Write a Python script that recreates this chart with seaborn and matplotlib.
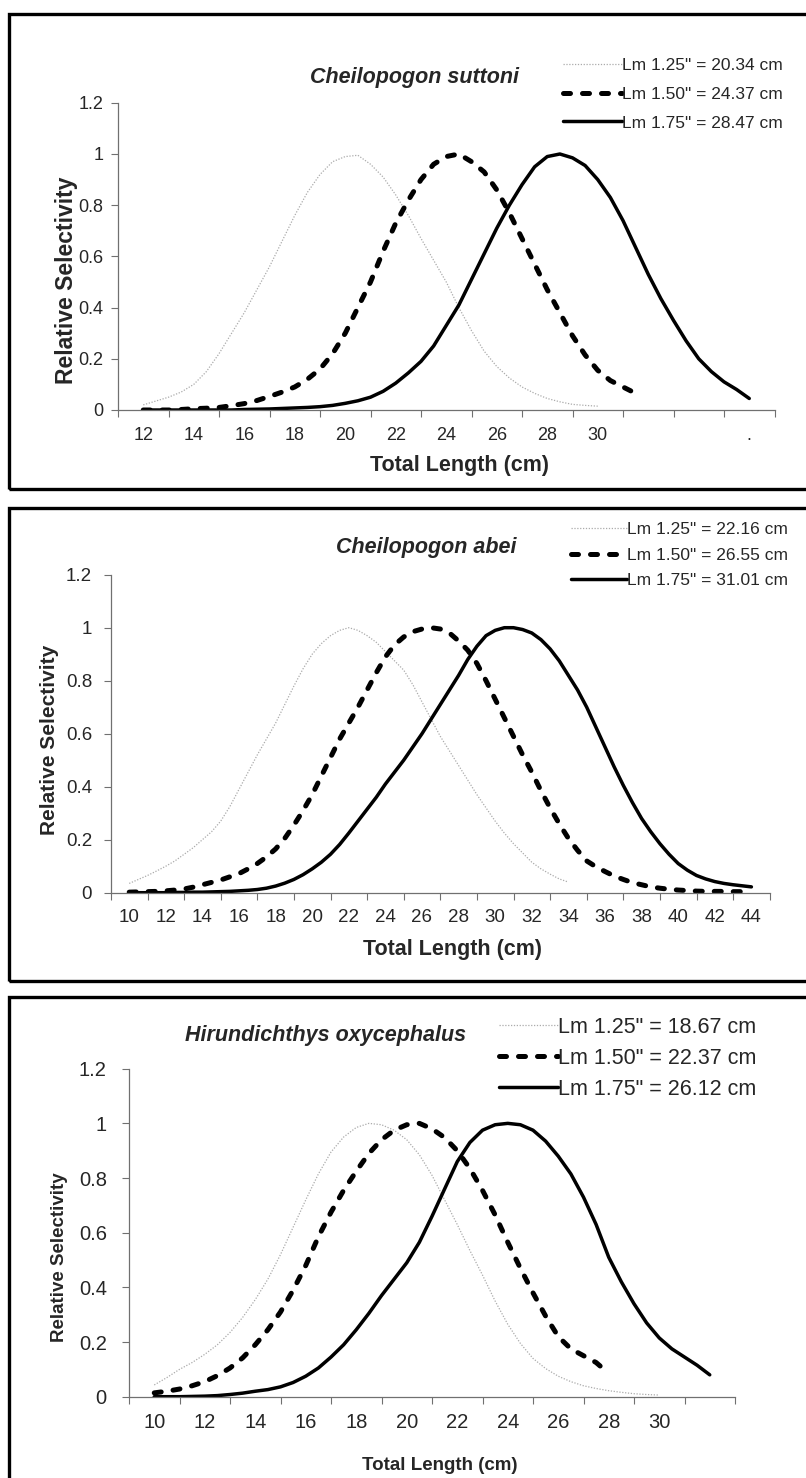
import numpy as np
import pandas as pd
import matplotlib
matplotlib.use("Agg")
import matplotlib.pyplot as plt
import seaborn as sns
from matplotlib.patches import Rectangle

# ---------------- data (every 0.5 cm) ----------------
# Panel 1: Cheilopogon suttoni
p1_title = "Cheilopogon suttoni"
p1_labels = ['Lm 1.25" = 20.34 cm', 'Lm 1.50" = 24.37 cm', 'Lm 1.75" = 28.47 cm']
p1_len_a = np.arange(12, 30.01, 0.5)
p1_sel_a = [0.02, 0.035, 0.05, 0.07, 0.10, 0.15, 0.22, 0.30, 0.38, 0.47, 0.56, 0.66, 0.76,
            0.85, 0.92, 0.97, 0.99, 0.995, 0.96, 0.91, 0.84, 0.76, 0.67, 0.585, 0.50, 0.40,
            0.31, 0.23, 0.17, 0.125, 0.09, 0.065, 0.045, 0.032, 0.022, 0.018, 0.015]
p1_len_b = np.arange(12, 31.51, 0.5)
p1_sel_b = [0.0, 0.0, 0.0, 0.002, 0.005, 0.007, 0.01, 0.017, 0.025, 0.037, 0.053, 0.07, 0.09,
            0.12, 0.16, 0.22, 0.30, 0.40, 0.50, 0.62, 0.73, 0.82, 0.90, 0.96, 0.99, 1.0, 0.97,
            0.93, 0.86, 0.77, 0.67, 0.57, 0.47, 0.38, 0.29, 0.215, 0.155, 0.115, 0.09, 0.065]
p1_len_c = np.arange(12, 36.01, 0.5)
p1_sel_c = [0.0, 0.0, 0.0, 0.0, 0.0, 0.0, 0.0, 0.0, 0.002, 0.003, 0.004, 0.006, 0.008, 0.01,
            0.013, 0.018, 0.026, 0.036, 0.05, 0.073, 0.105, 0.145, 0.19, 0.25, 0.33, 0.41,
            0.51, 0.61, 0.71, 0.80, 0.88, 0.95, 0.99, 1.0, 0.985, 0.955, 0.90, 0.83, 0.74,
            0.635, 0.53, 0.435, 0.35, 0.27, 0.20, 0.15, 0.11, 0.08, 0.045]
p1_cats = [12, 14, 16, 18, 20, 22, 24, 26, 28, 30, 32, 34, 36]
p1_ticklabels = ["12", "14", "16", "18", "20", "22", "24", "26", "28", "30", "", "", "."]

# Panel 2: Cheilopogon abei
p2_title = "Cheilopogon abei"
p2_labels = ['Lm 1.25" = 22.16 cm', 'Lm 1.50" = 26.55 cm', 'Lm 1.75" = 31.01 cm']
p2_len_a = np.arange(10, 34.01, 0.5)
p2_sel_a = [0.035, 0.05, 0.065, 0.082, 0.10, 0.12, 0.145, 0.17, 0.20, 0.23, 0.27, 0.325,
            0.39, 0.455, 0.52, 0.58, 0.64, 0.71, 0.78, 0.845, 0.90, 0.94, 0.97, 0.99, 1.0,
            0.99, 0.97, 0.945, 0.91, 0.875, 0.84, 0.785, 0.72, 0.655, 0.59, 0.535, 0.48,
            0.425, 0.37, 0.32, 0.27, 0.225, 0.185, 0.15, 0.115, 0.09, 0.07, 0.052, 0.04]
p2_len_b = np.arange(10, 44.01, 0.5)
p2_sel_b = [0.002, 0.003, 0.004, 0.005, 0.007, 0.01, 0.014, 0.021, 0.03, 0.039, 0.048, 0.06,
            0.072, 0.09, 0.11, 0.135, 0.165, 0.205, 0.255, 0.31, 0.37, 0.44, 0.51, 0.58, 0.64,
            0.70, 0.765, 0.83, 0.89, 0.935, 0.965, 0.985, 0.995, 1.0, 0.995, 0.98, 0.95,
            0.915, 0.865, 0.80, 0.73, 0.66, 0.59, 0.52, 0.455, 0.385, 0.32, 0.26, 0.205, 0.16,
            0.12, 0.098, 0.08, 0.063, 0.05, 0.038, 0.03, 0.022, 0.017, 0.013, 0.01, 0.008,
            0.006, 0.005, 0.005, 0.005, 0.004, 0.004, 0.004]
p2_len_c = np.arange(10, 44.01, 0.5)
p2_sel_c = [0.0, 0.0, 0.0, 0.0, 0.0, 0.001, 0.001, 0.002, 0.002, 0.003, 0.004, 0.005, 0.007,
            0.009, 0.012, 0.017, 0.025, 0.036, 0.05, 0.068, 0.09, 0.115, 0.145, 0.182, 0.225,
            0.27, 0.315, 0.36, 0.41, 0.455, 0.50, 0.55, 0.60, 0.655, 0.71, 0.765, 0.82, 0.88,
            0.93, 0.97, 0.99, 1.0, 1.0, 0.993, 0.98, 0.955, 0.92, 0.875, 0.82, 0.765, 0.70,
            0.625, 0.55, 0.475, 0.405, 0.34, 0.28, 0.23, 0.185, 0.145, 0.11, 0.085, 0.065,
            0.052, 0.042, 0.035, 0.03, 0.026, 0.022]
p2_cats = [10, 12, 14, 16, 18, 20, 22, 24, 26, 28, 30, 32, 34, 36, 38, 40, 42, 44]
p2_ticklabels = ["10", "12", "14", "16", "18", "20", "22", "24", "26", "28", "30", "32", "34",
                 "36", "38", "40", "42", "44"]

# Panel 3: Hirundichthys oxycephalus
p3_title = "Hirundichthys oxycephalus"
p3_labels = ['Lm 1.25" = 18.67 cm', 'Lm 1.50" = 22.37 cm', 'Lm 1.75" = 26.12 cm']
p3_len_a = np.arange(10, 30.01, 0.5)
p3_sel_a = [0.043, 0.07, 0.10, 0.125, 0.155, 0.19, 0.235, 0.29, 0.355, 0.43, 0.52, 0.62, 0.72,
            0.815, 0.895, 0.95, 0.985, 1.0, 0.995, 0.975, 0.94, 0.885, 0.81, 0.72, 0.63, 0.535,
            0.445, 0.35, 0.265, 0.195, 0.14, 0.103, 0.075, 0.055, 0.04, 0.03, 0.022, 0.016,
            0.011, 0.008, 0.006]
p3_len_b = np.arange(10, 28.01, 0.5)
p3_sel_b = [0.014, 0.02, 0.028, 0.04, 0.055, 0.077, 0.105, 0.142, 0.19, 0.245, 0.31, 0.39,
            0.48, 0.585, 0.675, 0.755, 0.825, 0.89, 0.94, 0.975, 0.995, 1.0, 0.98, 0.948, 0.90,
            0.835, 0.755, 0.665, 0.565, 0.47, 0.38, 0.295, 0.22, 0.175, 0.15, 0.125, 0.085]
p3_len_c = np.arange(10, 32.01, 0.5)
p3_sel_c = [0.0, 0.0, 0.0, 0.001, 0.002, 0.004, 0.008, 0.013, 0.02, 0.026, 0.036, 0.052, 0.075,
            0.105, 0.145, 0.19, 0.245, 0.305, 0.37, 0.43, 0.49, 0.565, 0.66, 0.76, 0.86, 0.93,
            0.975, 0.995, 1.0, 0.995, 0.975, 0.935, 0.88, 0.815, 0.73, 0.63, 0.51, 0.42, 0.34,
            0.27, 0.215, 0.175, 0.145, 0.115, 0.08]
p3_cats = [10, 12, 14, 16, 18, 20, 22, 24, 26, 28, 30, 32]
p3_ticklabels = ["10", "12", "14", "16", "18", "20", "22", "24", "26", "28", "30", ""]

y_ticks = [0, 0.2, 0.4, 0.6, 0.8, 1.0, 1.2]
y_ticklabels = ["0", "0.2", "0.4", "0.6", "0.8", "1", "1.2"]
x_label = "Total Length (cm)"
y_label = "Relative Selectivity"

# ---------------- style ----------------
sns.set_theme(style="white")
plt.rcParams["font.family"] = ["Liberation Sans", "DejaVu Sans"]

W, H = 806, 1478
fig = plt.figure(figsize=(W / 100, H / 100), dpi=100)


def fx(px):
    return px / W


def fy(py):
    return 1 - py / H


def make_panel(box, xlim, cats, ticklabels, series, labels, title, title_xy,
               tick_fs, tick_pad_x, tick_pad_y, xlab_fs, xlab_xy, ylab_fs, ylab_xy,
               leg_fs, leg_anchor, leg_spacing, leg_handlelen, title_fs, frame):
    left, right, y0, y12 = box
    ax = fig.add_axes([fx(left), fy(y0), fx(right - left), (y0 - y12) / H])
    styles = [
        dict(color="#ababab", linewidth=0.9, linestyle=(0, (1, 1.3))),
        dict(color="black", linewidth=3.6, linestyle=(0, (1.4, 2.4)),
             dash_capstyle="round", solid_capstyle="round", solid_joinstyle="round"),
        dict(color="black", linewidth=2.5, linestyle="-", solid_capstyle="round",
             solid_joinstyle="round"),
    ]
    for (xs, ys), st, lab in zip(series, styles, labels):
        df = pd.DataFrame({"length": xs, "sel": ys})
        sns.lineplot(data=df, x="length", y="sel", ax=ax, label=lab, **st)
    ax.set_xlim(*xlim)
    ax.set_ylim(0, 1.2)
    # category boundaries as major ticks, labels at category centres
    ax.set_xticks(np.arange(xlim[0], xlim[1] + 0.5, 2))
    ax.set_xticklabels([])
    ax.set_xticks(cats, minor=True)
    ax.set_xticklabels(ticklabels, minor=True)
    ax.set_yticks(y_ticks)
    ax.set_yticklabels(y_ticklabels)
    ax.tick_params(axis="x", which="major", direction="out", length=5, width=0.8,
                   color="#707070", bottom=True)
    ax.tick_params(axis="x", which="minor", length=0, pad=tick_pad_x, labelsize=tick_fs,
                   bottom=True)
    ax.tick_params(axis="y", direction="out", length=5, width=0.8, color="#707070",
                   pad=tick_pad_y, labelsize=tick_fs, left=True)
    for s in ["top", "right"]:
        ax.spines[s].set_visible(False)
    for s in ["left", "bottom"]:
        ax.spines[s].set_color("#707070")
        ax.spines[s].set_linewidth(0.9)
    ax.set_xlabel(x_label, fontsize=xlab_fs, fontweight="bold")
    ax.xaxis.label.set_va("center")
    ax.xaxis.set_label_coords((xlab_xy[0] - left) / (right - left),
                              (y0 - xlab_xy[1]) / (y0 - y12))
    ax.set_ylabel(y_label, fontsize=ylab_fs, fontweight="bold")
    ax.yaxis.label.set_va("center")
    ax.yaxis.set_label_coords((ylab_xy[0] - left) / (right - left),
                              (y0 - ylab_xy[1]) / (y0 - y12))
    ax.patch.set_alpha(0)
    handles, labs = ax.get_legend_handles_labels()
    ax.legend(handles, labs, loc="upper left",
              bbox_to_anchor=(fx(leg_anchor[0]), fy(leg_anchor[1])),
              bbox_transform=fig.transFigure, frameon=False, fontsize=leg_fs,
              borderpad=0, borderaxespad=0, handletextpad=0.0,
              handlelength=leg_handlelen, labelspacing=leg_spacing)
    fig.text(fx(title_xy[0]), fy(title_xy[1]), title, ha="center", va="center",
             fontsize=title_fs, fontweight="bold", fontstyle="italic")
    fx0, fy0, fx1, fy1 = frame
    fig.add_artist(Rectangle((fx(fx0), fy(fy1)), fx(fx1 - fx0), (fy1 - fy0) / H,
                             transform=fig.transFigure, fill=False,
                             edgecolor="black", linewidth=2.4, clip_on=False))
    return ax


make_panel((118, 774.5, 410, 102.8), (11, 37), p1_cats, p1_ticklabels,
           [(p1_len_a, p1_sel_a), (p1_len_b, p1_sel_b), (p1_len_c, p1_sel_c)],
           p1_labels, p1_title, (415, 77),
           tick_fs=13, tick_pad_x=12, tick_pad_y=5.5, xlab_fs=15.5, xlab_xy=(459, 466),
           ylab_fs=16.5, ylab_xy=(66, 280), leg_fs=12.5, leg_anchor=(563, 58),
           leg_spacing=0.78, leg_handlelen=3.4, title_fs=15.5, frame=(9, 14, 830, 489))

make_panel((110.9, 769.7, 892.7, 574.7), (9, 45), p2_cats, p2_ticklabels,
           [(p2_len_a, p2_sel_a), (p2_len_b, p2_sel_b), (p2_len_c, p2_sel_c)],
           p2_labels, p2_title, (426, 548),
           tick_fs=13.5, tick_pad_x=12, tick_pad_y=8.5, xlab_fs=15.5, xlab_xy=(452, 950),
           ylab_fs=15, ylab_xy=(49, 740), leg_fs=12.5, leg_anchor=(571, 522),
           leg_spacing=0.6, leg_handlelen=3.2, title_fs=15.5, frame=(9, 508, 830, 981))

make_panel((129, 735, 1396.7, 1068.7), (9, 33), p3_cats, p3_ticklabels,
           [(p3_len_a, p3_sel_a), (p3_len_b, p3_sel_b), (p3_len_c, p3_sel_c)],
           p3_labels, p3_title, (326, 1035),
           tick_fs=14.5, tick_pad_x=12, tick_pad_y=11, xlab_fs=13.5, xlab_xy=(440, 1465),
           ylab_fs=13.5, ylab_xy=(60, 1257), leg_fs=15.5, leg_anchor=(499, 1017),
           leg_spacing=0.46, leg_handlelen=2.75, title_fs=15.5, frame=(9, 997, 830, 1500))

fig.savefig("out.png", dpi=100)
